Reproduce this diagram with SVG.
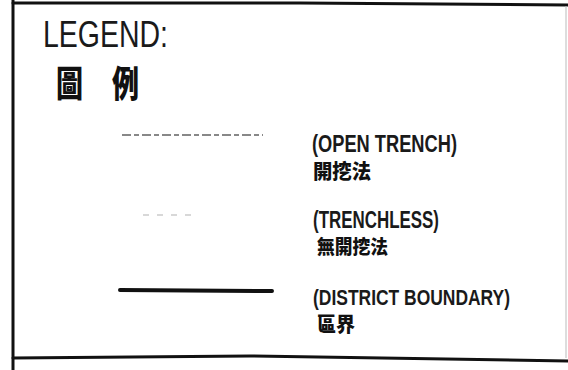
<svg xmlns="http://www.w3.org/2000/svg" width="568" height="370" viewBox="0 0 568 370">
<style>
.lbl{font-family:"Liberation Sans",Arial,sans-serif;fill:#1a1a1a;}
.b{font-weight:bold;}
.cjk{font-family:"Noto Sans CJK TC","Noto Sans CJK SC",sans-serif;font-weight:900;fill:#111;}
.frame{fill:none;stroke:#111;stroke-width:3;stroke-linecap:round;}
</style>
<rect width="568" height="370" fill="#fff"/>
<g id="frame">
<path class="frame" d="M13,0 V370"/>
<path class="frame" d="M13,3 L300,3 L568,5"/>
<path class="frame" d="M13,358 L250,356 L568,361"/>
<path d="M566,6 V358" stroke="#bbb" stroke-width="1" fill="none"/>
</g>
<g id="title">
<text class="lbl" x="43" y="47" font-size="36" textLength="125" lengthAdjust="spacingAndGlyphs">LEGEND:</text>
<text class="cjk" x="56" y="97" font-size="36" textLength="27" lengthAdjust="spacingAndGlyphs">圖</text>
<text class="cjk" x="112" y="97" font-size="36" textLength="27" lengthAdjust="spacingAndGlyphs">例</text>
</g>
<g id="open-trench">
<path d="M122,135 H263" stroke="#555" stroke-width="2" stroke-dasharray="9,3,5,3" fill="none" opacity="0.7"/>
<text class="lbl b" x="312" y="152" font-size="23" textLength="145" lengthAdjust="spacingAndGlyphs">(OPEN TRENCH)</text>
<text class="cjk" x="313" y="179" font-size="20" textLength="58" lengthAdjust="spacingAndGlyphs">開挖法</text>
</g>
<g id="trenchless">
<path d="M143,215 H192" stroke="#ccc" stroke-width="1.5" stroke-dasharray="6,8" fill="none"/>
<text class="lbl b" x="313" y="228" font-size="23" textLength="126" lengthAdjust="spacingAndGlyphs">(TRENCHLESS)</text>
<text class="cjk" x="317" y="254" font-size="19" textLength="71" lengthAdjust="spacingAndGlyphs">無開挖法</text>
</g>
<g id="district-boundary">
<path d="M120,290 L272,291" stroke="#111" stroke-width="4" stroke-linecap="round" fill="none"/>
<text class="lbl b" x="313" y="305" font-size="22" textLength="197" lengthAdjust="spacingAndGlyphs">(DISTRICT BOUNDARY)</text>
<text class="cjk" x="317" y="332" font-size="20" textLength="38" lengthAdjust="spacingAndGlyphs">區界</text>
</g>
<g id="connectors"/>
</svg>
